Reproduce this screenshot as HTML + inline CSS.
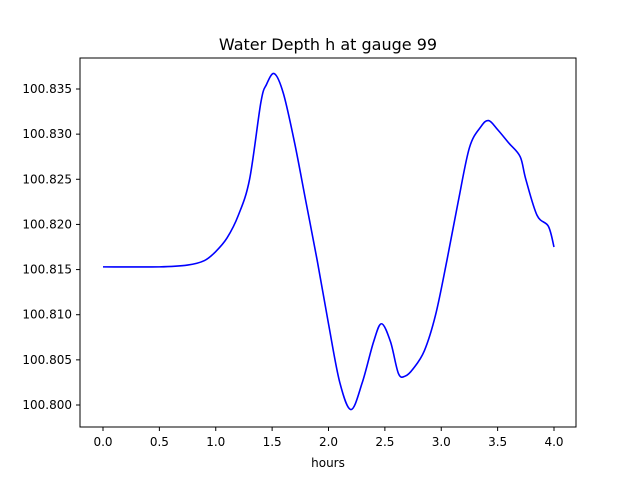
<!DOCTYPE html>
<html><head><meta charset="utf-8"><style>
body{margin:0;background:#fff;}
svg text{font-family:"DejaVu Sans","Liberation Sans",sans-serif;fill:#000;}
</style></head><body>
<svg id="chart" width="640" height="480">
<rect width="640" height="480" fill="#fff"/>
<text x="328" y="50" font-size="16" text-anchor="middle">Water Depth h at gauge 99</text>
<g id="plot"></g>
<rect x="80" y="58" width="496" height="369" fill="none" stroke="#000" stroke-width="1"/>
<text x="328" y="467" font-size="12" text-anchor="middle">hours</text>
</svg>
<script>
const times = [0,0.5,0.75,0.9,1.0,1.1,1.2,1.3,1.4,1.45,1.52,1.6,1.7,1.8,1.9,2.0,2.1,2.2,2.3,2.4,2.47,2.55,2.62,2.68,2.75,2.85,2.95,3.05,3.15,3.25,3.35,3.42,3.5,3.6,3.7,3.75,3.85,3.95,4.0];
const depths = [100.8153,100.8153,100.8155,100.816,100.817,100.8185,100.821,100.825,100.8335,100.8355,100.8367,100.8345,100.829,100.8225,100.816,100.809,100.8025,100.7995,100.8025,100.807,100.809,100.807,100.8035,100.8032,100.804,100.806,100.810,100.816,100.8225,100.8285,100.8308,100.8315,100.8305,100.829,100.8275,100.825,100.821,100.8198,100.8175];
const xTicks = [0.0,0.5,1.0,1.5,2.0,2.5,3.0,3.5,4.0];
const yTicks = [100.800,100.805,100.810,100.815,100.820,100.825,100.830,100.835];
const NS="http://www.w3.org/2000/svg";
const xs = v => 103 + (v-0)*(554-103)/4;
const ys = v => 405 - (v-100.800)*(405-89)/0.035;
const g = document.getElementById('plot');
function mk(t,a){const e=document.createElementNS(NS,t);for(const k in a)e.setAttribute(k,a[k]);g.appendChild(e);return e;}
xTicks.forEach(v=>{
  const l=mk('line',{x1:xs(v),x2:xs(v),y1:427,y2:431,stroke:'#000'});
  
  
  const t=mk('text',{x:xs(v),y:446,'font-size':12,'text-anchor':'middle'});
  t.textContent=v.toFixed(1);
  
  
});
yTicks.forEach(v=>{
  const l=mk('line',{x1:76,x2:80,y1:ys(v),y2:ys(v),stroke:'#000'});
  
  
  const t=mk('text',{x:72,y:ys(v)+4,'font-size':12,'text-anchor':'end'});
  t.textContent=v.toFixed(3);
  
  
});
const P=times.map((t,i)=>[xs(t),ys(depths[i])]);
let d='M'+P[0][0]+','+P[0][1];
for(let i=0;i<P.length-1;i++){
  const p0=P[i-1]||P[i],p1=P[i],p2=P[i+1],p3=P[i+2]||P[i+1];
  const c1=[p1[0]+(p2[0]-p0[0])/6,p1[1]+(p2[1]-p0[1])/6];
  const c2=[p2[0]-(p3[0]-p1[0])/6,p2[1]-(p3[1]-p1[1])/6];
  d+=` C${c1[0]},${c1[1]} ${c2[0]},${c2[1]} ${p2[0]},${p2[1]}`;
}
const path=mk('path',{d:d,fill:'none',stroke:'#0000ff','stroke-width':1.6});


</script>
</body></html>
